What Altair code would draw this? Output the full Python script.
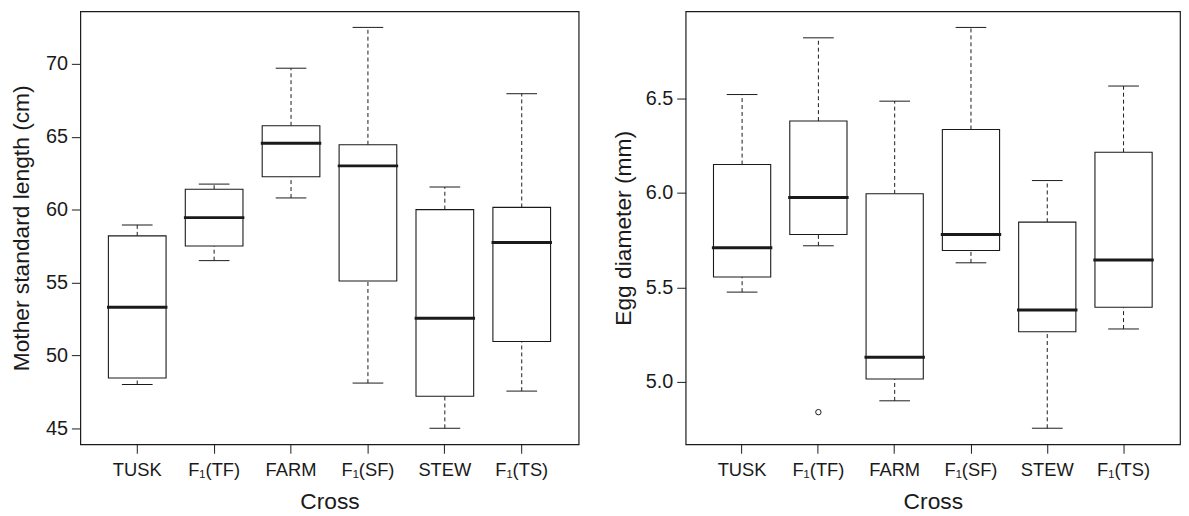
import altair as alt
import pandas as pd

crosses = ["TUSK", "F\u2081(TF)", "FARM", "F\u2081(SF)", "STEW", "F\u2081(TS)"]

# Mother standard length (cm)
len_lower = [48.0, 56.5, 60.8, 48.1, 45.0, 47.55]
len_q1 = [48.45, 57.5, 62.25, 55.1, 47.2, 50.95]
len_median = [53.3, 59.45, 64.55, 63.0, 52.55, 57.75]
len_q3 = [58.2, 61.4, 65.75, 64.45, 60.0, 60.15]
len_upper = [58.95, 61.75, 69.7, 72.5, 61.55, 67.95]

# Egg diameter (mm)
egg_lower = [5.475, 5.72, 4.90, 5.63, 4.755, 5.28]
egg_q1 = [5.555, 5.78, 5.015, 5.695, 5.265, 5.395]
egg_median = [5.71, 5.975, 5.13, 5.78, 5.38, 5.645]
egg_q3 = [6.15, 6.38, 5.995, 6.335, 5.845, 6.215]
egg_upper = [6.52, 6.82, 6.485, 6.875, 6.065, 6.565]
egg_outlier_cross = ["F\u2081(TF)"]
egg_outlier_value = [4.84]

C = "#1a1a1a"
FONT = "Liberation Sans"


def make_df(lo, q1, med, q3, hi):
    return pd.DataFrame({"cross": crosses, "lower": lo, "q1": q1,
                         "median": med, "q3": q3, "upper": hi})


def panel(df, ytitle, domain, ticks, fmt, width, title_x, out_df=None):
    xenc = alt.X("cross:N", sort=crosses, title="Cross",
                 scale=alt.Scale(domain=crosses, paddingInner=0.25, paddingOuter=0.365),
                 axis=alt.Axis(labelAngle=0, titleY=65, titleBaseline="alphabetic"))
    yscale = alt.Scale(domain=domain, nice=False, zero=False)
    yaxis = alt.Axis(values=ticks, format=fmt, title=ytitle, titleX=title_x,
                     titleY=218.5, titleAngle=-90, titleBaseline="alphabetic",
                     titleAlign="center")
    base = alt.Chart(df).encode(x=xenc)
    w_hi = base.mark_rule(strokeDash=[4, 3], strokeWidth=1, color=C, opacity=1).encode(
        y=alt.Y("q3:Q", scale=yscale, axis=yaxis), y2="upper:Q")
    w_lo = base.mark_rule(strokeDash=[4, 3], strokeWidth=1, color=C, opacity=1).encode(
        y=alt.Y("lower:Q", scale=yscale), y2="q1:Q")
    cap_hi = base.mark_tick(size=31, thickness=1, color=C, opacity=1).encode(
        y=alt.Y("upper:Q", scale=yscale))
    cap_lo = base.mark_tick(size=31, thickness=1, color=C, opacity=1).encode(
        y=alt.Y("lower:Q", scale=yscale))
    box = base.mark_bar(fill="white", stroke=C, strokeWidth=1.1, opacity=1).encode(
        y=alt.Y("q1:Q", scale=yscale), y2="q3:Q")
    med = base.mark_tick(size=61, thickness=3, color=C, opacity=1).encode(
        y=alt.Y("median:Q", scale=yscale))
    layers = [w_hi, w_lo, cap_hi, cap_lo, box, med]
    if out_df is not None:
        pts = alt.Chart(out_df).mark_point(shape="circle", filled=False, size=30,
                                           strokeWidth=1, color=C, opacity=1).encode(
            x=xenc, y=alt.Y("value:Q", scale=yscale))
        layers.append(pts)
    return alt.layer(*layers).properties(width=width, height=437)


len_df = make_df(len_lower, len_q1, len_median, len_q3, len_upper)
egg_df = make_df(egg_lower, egg_q1, egg_median, egg_q3, egg_upper)
out_df = pd.DataFrame({"cross": egg_outlier_cross, "value": egg_outlier_value})

left = panel(len_df, "Mother standard length (cm)", [43.9, 73.6],
             [45, 50, 55, 60, 65, 70], "d", 503, -52.4)
right = panel(egg_df, "Egg diameter (mm)", [4.67, 6.96],
              [5.0, 5.5, 6.0, 6.5], ".1f", 499, -55.6, out_df)

chart = alt.hconcat(left, right, spacing=32).properties(
    padding={"left": 2, "top": 0, "right": 0, "bottom": 0},
    background="white",
).configure_view(
    stroke=C, strokeWidth=1.2
).configure_axis(
    domain=False, grid=False, tickColor=C, tickSize=9, tickWidth=1,
    labelFont=FONT, titleFont=FONT, labelColor=C, titleColor=C,
    titleFontWeight="normal", titleFontSize=23,
).configure_axisX(
    labelFontSize=18.5, labelPadding=7,
).configure_axisY(
    labelFontSize=20, labelPadding=4,
)

chart.save("out.html", embed_options={"renderer": "svg", "actions": False})
